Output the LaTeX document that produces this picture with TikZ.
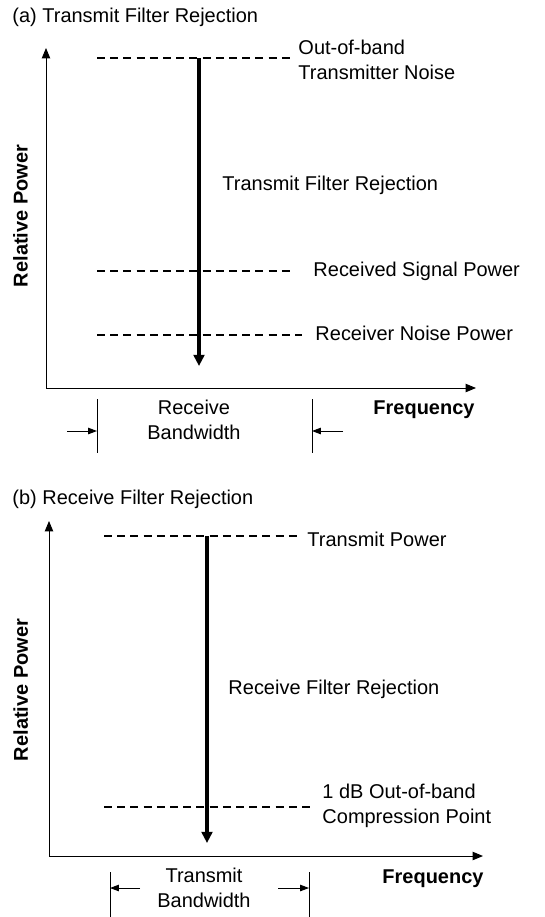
\documentclass[tikz,border=0pt]{standalone}
\usepackage{fontspec}
\setmainfont{Liberation Sans}
\usetikzlibrary{arrows.meta, positioning}
\tikzset{
  every picture/.style={font=\fontsize{14.2}{17.5}\selectfont, line width=0.7pt},
  axisline/.style={{Triangle[length=2.6mm, width=2.1mm]}-{Triangle[length=2.6mm, width=2.1mm]}},
  levelline/.style={dash pattern=on 2mm off 1.3mm, line width=0.9pt},
  rejection/.style={-{Triangle[length=2.8mm, width=2.7mm]}, line width=2.3pt},
  bwarrow/.style={-{Triangle[length=2.2mm, width=1.6mm]}},
  tag/.style={anchor=base west, align=left, inner sep=0pt},
  axistag/.style={inner sep=0pt, font=\fontsize{14.2}{17}\selectfont\bfseries},
}

\begin{document}
\begin{tikzpicture}[x=0.25mm, y=-0.25mm]
  \useasboundingbox (0,0) rectangle (545,917);
  % (a) transmit filter
  \node[tag] (a-title) at (12,22.5) {(a) Transmit Filter Rejection};
  \coordinate (a-origin) at (46,388);
  \coordinate (a-ytip) at (46,48);
  \coordinate (a-xtip) at (476,388);
  \draw[axisline] (a-ytip) |- (a-xtip);
  \node[axistag, rotate=90, anchor=base] (a-power) at (27.5,216) {Relative Power};
  \node[axistag, anchor=base west] (a-freq) at (373,414) {Frequency};
  % levels
  \draw[levelline] (97,58) -- (292,58);
  \draw[levelline] (97,271) -- (292,271);
  \draw[levelline] (97,335) -- (302,335);
  \node[tag] (a-txnoise) at (298,79) {Out-of-band\\Transmitter Noise};
  \node[tag] (a-rxsig) at (313,276.5) {Received Signal Power};
  \node[tag] (a-rxnoise) at (315,340.5) {Receiver Noise Power};
  % rejection arrow
  \coordinate (a-rej-top) at (199,58);
  \coordinate (a-rej-end) at (199,366);
  \draw[rejection] (a-rej-top) -- (a-rej-end);
  \node[tag] (a-rej) at (222,190) {Transmit Filter Rejection};
  % receive bandwidth
  \draw (97,399) -- (97,453);
  \draw (312,399) -- (312,453);
  \coordinate (a-bw-l) at (97,431);
  \coordinate (a-bw-r) at (312,431);
  \coordinate (a-bw-lout) at (67,431);
  \coordinate (a-bw-rout) at (343,431);
  \draw[bwarrow] (a-bw-lout) -- (a-bw-l);
  \draw[bwarrow] (a-bw-rout) -- (a-bw-r);
  \node[tag, align=center, anchor=base] (a-bw) at (194,439) {Receive\\Bandwidth};

  % (b) receive filter
  \node[tag] (b-title) at (12,504) {(b) Receive Filter Rejection};
  \coordinate (b-origin) at (49,856);
  \coordinate (b-ytip) at (49,521);
  \coordinate (b-xtip) at (483,856);
  \draw[axisline] (b-ytip) |- (b-xtip);
  \node[axistag, rotate=90, anchor=base] (b-power) at (28,690) {Relative Power};
  \node[axistag, anchor=base west] (b-freq) at (382,883) {Frequency};
  % levels
  \draw[levelline] (104,536) -- (298,536);
  \draw[levelline] (104,807) -- (310,807);
  \node[tag] (b-txpow) at (307,546) {Transmit Power};
  \node[tag] (b-comp) at (322,823) {1 dB Out-of-band\\Compression Point};
  % rejection arrow
  \coordinate (b-rej-top) at (207,536);
  \coordinate (b-rej-end) at (207,843);
  \draw[rejection] (b-rej-top) -- (b-rej-end);
  \node[tag] (b-rej) at (228,694) {Receive Filter Rejection};
  % transmit bandwidth
  \draw (110,872) -- (110,917);
  \draw (309,872) -- (309,917);
  \coordinate (b-bw-l) at (110,888);
  \coordinate (b-bw-r) at (309,888);
  \coordinate (b-bw-lin) at (140,888);
  \coordinate (b-bw-rin) at (278,888);
  \draw[bwarrow] (b-bw-lin) -- (b-bw-l);
  \draw[bwarrow] (b-bw-rin) -- (b-bw-r);
  \node[tag, align=center, anchor=base] (b-bw) at (204,907) {Transmit\\Bandwidth};
\end{tikzpicture}
\end{document}
